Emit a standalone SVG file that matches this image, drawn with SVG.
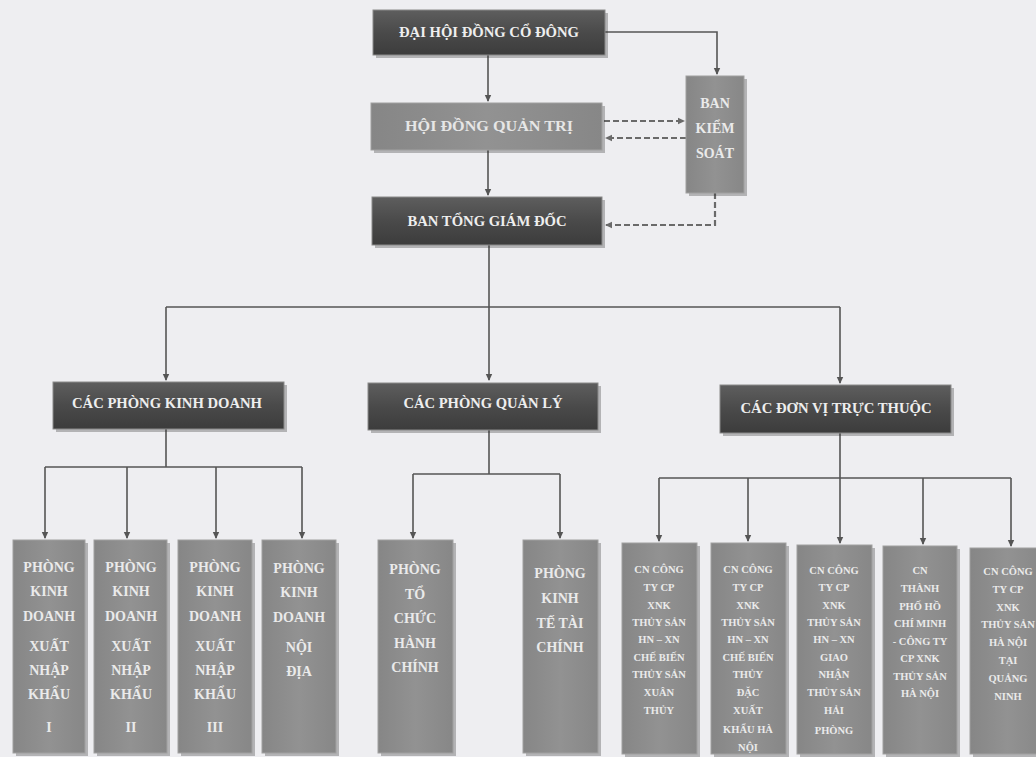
<svg xmlns="http://www.w3.org/2000/svg" width="1036" height="757" viewBox="0 0 1036 757">
<style>
.dark{fill:url(#gDark);stroke:#8a8a8a;stroke-width:1}
.light{fill:url(#gLight);stroke:#a0a0a0;stroke-width:1}
.sh{fill:#2a2a2a;opacity:0.3}
.ht{font-family:"Liberation Serif",serif;font-weight:bold;font-size:14px;fill:#eeeeee;text-anchor:middle}
.mt{font-family:"Liberation Serif",serif;font-weight:bold;font-size:14px;fill:#e6e6e6;text-anchor:middle}
.lt{font-family:"Liberation Serif",serif;font-weight:bold;font-size:14px;fill:#eaeaea;text-anchor:middle}
.st{font-family:"Liberation Serif",serif;font-weight:bold;font-size:10.5px;fill:#eaeaea;text-anchor:middle}
.ln{fill:none;stroke:#555555;stroke-width:1.6}
.dl{fill:none;stroke:#6a6a6a;stroke-width:2.2;stroke-dasharray:6 3}
</style>
<defs>
<linearGradient id="gDark" x1="0" y1="0" x2="0" y2="1">
<stop offset="0" stop-color="#5e5e5e"/><stop offset="0.5" stop-color="#4a4a4a"/><stop offset="1" stop-color="#3c3c3c"/>
</linearGradient>
<linearGradient id="gLight" x1="0" y1="0" x2="1" y2="0">
<stop offset="0" stop-color="#868686"/><stop offset="0.5" stop-color="#929292"/><stop offset="1" stop-color="#878787"/>
</linearGradient>
<marker id="ah" markerWidth="8" markerHeight="8" refX="6" refY="4" orient="auto" markerUnits="userSpaceOnUse">
<path d="M0,0.8 L7,4 L0,7.2 z" fill="#555555"/>
</marker>
<marker id="ahd" markerWidth="8" markerHeight="8" refX="6" refY="4" orient="auto" markerUnits="userSpaceOnUse">
<path d="M0,0.8 L7,4 L0,7.2 z" fill="#6a6a6a"/>
</marker>
</defs>
<rect width="1036" height="757" fill="#eeeef1"/>

<g id="connectors">
<path class="ln" d="M605,32 H717 V74" marker-end="url(#ah)"/>
<path class="ln" d="M488,55 V101" marker-end="url(#ah)"/>
<path class="ln" d="M488,150 V195" marker-end="url(#ah)"/>
<path class="dl" d="M604,121 H684" marker-end="url(#ahd)"/>
<path class="dl" d="M686,138 H606" marker-end="url(#ahd)"/>
<path class="dl" d="M715,193 V225 H606" marker-end="url(#ahd)"/>
<path class="ln" d="M489,245 V307"/>
<path class="ln" d="M166,307 H840"/>
<path class="ln" d="M166,307 V380" marker-end="url(#ah)"/>
<path class="ln" d="M489,307 V380" marker-end="url(#ah)"/>
<path class="ln" d="M840,307 V383" marker-end="url(#ah)"/>
<path class="ln" d="M166,429 V467 M45,467 H302"/>
<path class="ln" d="M45,467 V538" marker-end="url(#ah)"/>
<path class="ln" d="M127,467 V538" marker-end="url(#ah)"/>
<path class="ln" d="M216,467 V538" marker-end="url(#ah)"/>
<path class="ln" d="M302,467 V538" marker-end="url(#ah)"/>
<path class="ln" d="M489,430 V474 M413,474 H560"/>
<path class="ln" d="M413,474 V538" marker-end="url(#ah)"/>
<path class="ln" d="M560,474 V538" marker-end="url(#ah)"/>
<path class="ln" d="M840,433 V478 M659,478 H1011"/>
<path class="ln" d="M659,478 V541" marker-end="url(#ah)"/>
<path class="ln" d="M748,478 V541" marker-end="url(#ah)"/>
<path class="ln" d="M840,478 V543" marker-end="url(#ah)"/>
<path class="ln" d="M923,478 V544" marker-end="url(#ah)"/>
<path class="ln" d="M1011,478 V546" marker-end="url(#ah)"/>
</g>

<g id="n-dhdcd">
<rect class="sh" x="376" y="13" width="232" height="45"/>
<rect class="dark" x="373" y="10" width="232" height="45"/>
<text class="ht" x="489" y="37" textLength="180" lengthAdjust="spacingAndGlyphs">ĐẠI HỘI ĐỒNG CỔ ĐÔNG</text>
</g>
<g id="n-hdqt">
<rect class="sh" x="374" y="106" width="231" height="47"/>
<rect class="light" x="371" y="103" width="231" height="47"/>
<text class="mt" x="489" y="131" textLength="168" lengthAdjust="spacingAndGlyphs">HỘI ĐỒNG QUẢN TRỊ</text>
</g>
<g id="n-btgd">
<rect class="sh" x="375" y="200" width="230" height="48"/>
<rect class="dark" x="372" y="197" width="230" height="48"/>
<text class="ht" x="487" y="226" textLength="159" lengthAdjust="spacingAndGlyphs">BAN TỔNG GIÁM ĐỐC</text>
</g>
<g id="n-bks">
<rect class="sh" x="689" y="79" width="58" height="117"/>
<rect class="light" x="686" y="76" width="58" height="117"/>
<text class="lt" x="715" y="108">BAN</text>
<text class="lt" x="715" y="133">KIỂM</text>
<text class="lt" x="715" y="158">SOÁT</text>
</g>

<g id="n-cpkd">
<rect class="sh" x="56" y="385" width="231" height="47"/>
<rect class="dark" x="53" y="382" width="231" height="47"/>
<text class="ht" x="167" y="408" textLength="190" lengthAdjust="spacingAndGlyphs">CÁC PHÒNG KINH DOANH</text>
</g>
<g id="n-cpql">
<rect class="sh" x="371" y="386" width="230" height="47"/>
<rect class="dark" x="368" y="383" width="230" height="47"/>
<text class="ht" x="483" y="408" textLength="159" lengthAdjust="spacingAndGlyphs">CÁC PHÒNG QUẢN LÝ</text>
</g>
<g id="n-cdvtt">
<rect class="sh" x="723" y="388" width="231" height="48"/>
<rect class="dark" x="720" y="385" width="231" height="48"/>
<text class="ht" x="836" y="413" textLength="191" lengthAdjust="spacingAndGlyphs">CÁC ĐƠN VỊ TRỰC THUỘC</text>
</g>

<g id="n-kd1">
<rect class="sh" x="16" y="543" width="72" height="213"/>
<rect class="light" x="13" y="540" width="72" height="213"/>
<text class="lt" x="49" y="572">PHÒNG</text><text class="lt" x="49" y="596">KINH</text><text class="lt" x="49" y="621">DOANH</text>
<text class="lt" x="49" y="651">XUẤT</text><text class="lt" x="49" y="675">NHẬP</text><text class="lt" x="49" y="699">KHẨU</text><text class="lt" x="49" y="732">I</text>
</g>
<g id="n-kd2">
<rect class="sh" x="97" y="543" width="73" height="213"/>
<rect class="light" x="94" y="540" width="73" height="213"/>
<text class="lt" x="131" y="572">PHÒNG</text><text class="lt" x="131" y="596">KINH</text><text class="lt" x="131" y="621">DOANH</text>
<text class="lt" x="131" y="651">XUẤT</text><text class="lt" x="131" y="675">NHẬP</text><text class="lt" x="131" y="699">KHẨU</text><text class="lt" x="131" y="732">II</text>
</g>
<g id="n-kd3">
<rect class="sh" x="181" y="543" width="74" height="213"/>
<rect class="light" x="178" y="540" width="74" height="213"/>
<text class="lt" x="215" y="572">PHÒNG</text><text class="lt" x="215" y="596">KINH</text><text class="lt" x="215" y="621">DOANH</text>
<text class="lt" x="215" y="651">XUẤT</text><text class="lt" x="215" y="675">NHẬP</text><text class="lt" x="215" y="699">KHẨU</text><text class="lt" x="215" y="732">III</text>
</g>
<g id="n-kd4">
<rect class="sh" x="265" y="543" width="74" height="213"/>
<rect class="light" x="262" y="540" width="74" height="213"/>
<text class="lt" x="299" y="573">PHÒNG</text><text class="lt" x="299" y="597">KINH</text><text class="lt" x="299" y="622">DOANH</text>
<text class="lt" x="299" y="652">NỘI</text><text class="lt" x="299" y="676">ĐỊA</text>
</g>

<g id="n-tchc">
<rect class="sh" x="381" y="543" width="75" height="213"/>
<rect class="light" x="378" y="540" width="75" height="213"/>
<text class="lt" x="415" y="574">PHÒNG</text><text class="lt" x="415" y="599">TỔ</text><text class="lt" x="415" y="623">CHỨC</text>
<text class="lt" x="415" y="648">HÀNH</text><text class="lt" x="415" y="672">CHÍNH</text>
</g>
<g id="n-kttc">
<rect class="sh" x="526" y="543" width="75" height="213"/>
<rect class="light" x="523" y="540" width="75" height="213"/>
<text class="lt" x="560" y="578">PHÒNG</text><text class="lt" x="560" y="603">KINH</text><text class="lt" x="560" y="628">TẾ TÀI</text>
<text class="lt" x="560" y="652">CHÍNH</text>
</g>

<g id="n-cn1">
<rect class="sh" x="625" y="546" width="75" height="211"/>
<rect class="light" x="622" y="543" width="75" height="211"/>
<text class="st" x="659" y="573">CN CÔNG</text><text class="st" x="659" y="591">TY CP</text><text class="st" x="659" y="609">XNK</text>
<text class="st" x="659" y="626">THỦY SẢN</text><text class="st" x="659" y="643">HN – XN</text><text class="st" x="659" y="661">CHẾ BIẾN</text>
<text class="st" x="659" y="678">THỦY SẢN</text><text class="st" x="659" y="696">XUÂN</text><text class="st" x="659" y="714">THỦY</text>
</g>
<g id="n-cn2">
<rect class="sh" x="714" y="546" width="75" height="211"/>
<rect class="light" x="711" y="543" width="75" height="211"/>
<text class="st" x="748" y="573">CN CÔNG</text><text class="st" x="748" y="591">TY CP</text><text class="st" x="748" y="609">XNK</text>
<text class="st" x="748" y="626">THỦY SẢN</text><text class="st" x="748" y="643">HN – XN</text><text class="st" x="748" y="661">CHẾ BIẾN</text>
<text class="st" x="748" y="678">THỦY</text><text class="st" x="748" y="696">ĐẶC</text><text class="st" x="748" y="714">XUẤT</text>
<text class="st" x="748" y="733">KHẨU HÀ</text><text class="st" x="748" y="751">NỘI</text>
</g>
<g id="n-cn3">
<rect class="sh" x="800" y="548" width="75" height="209"/>
<rect class="light" x="797" y="545" width="75" height="209"/>
<text class="st" x="834" y="574">CN CÔNG</text><text class="st" x="834" y="591">TY CP</text><text class="st" x="834" y="609">XNK</text>
<text class="st" x="834" y="626">THỦY SẢN</text><text class="st" x="834" y="643">HN – XN</text><text class="st" x="834" y="661">GIAO</text>
<text class="st" x="834" y="678">NHẬN</text><text class="st" x="834" y="696">THỦY SẢN</text><text class="st" x="834" y="714">HẢI</text>
<text class="st" x="834" y="734">PHÒNG</text>
</g>
<g id="n-cn4">
<rect class="sh" x="886" y="549" width="74" height="208"/>
<rect class="light" x="883" y="546" width="74" height="208"/>
<text class="st" x="920" y="574">CN</text><text class="st" x="920" y="592">THÀNH</text><text class="st" x="920" y="610">PHỐ HỒ</text>
<text class="st" x="920" y="627">CHÍ MINH</text><text class="st" x="920" y="645">- CÔNG TY</text><text class="st" x="920" y="662">CP XNK</text>
<text class="st" x="920" y="680">THỦY SẢN</text><text class="st" x="920" y="697">HÀ NỘI</text>
</g>
<g id="n-cn5">
<rect class="sh" x="973" y="551" width="75" height="206"/>
<rect class="light" x="970" y="548" width="75" height="206"/>
<text class="st" x="1008" y="575">CN CÔNG</text><text class="st" x="1008" y="593">TY CP</text><text class="st" x="1008" y="611">XNK</text>
<text class="st" x="1008" y="628">THỦY SẢN</text><text class="st" x="1008" y="646">HÀ NỘI</text><text class="st" x="1008" y="664">TẠI</text>
<text class="st" x="1008" y="682">QUẢNG</text><text class="st" x="1008" y="700">NINH</text>
</g>
</svg>
